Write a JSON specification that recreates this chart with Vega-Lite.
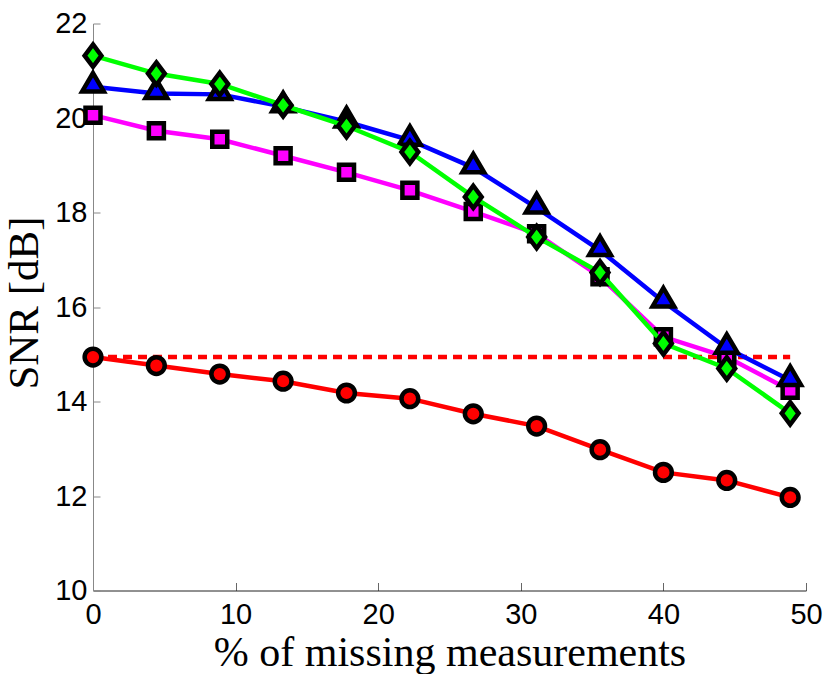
{
  "$schema": "https://vega.github.io/schema/vega-lite/v6.json",
  "width": 713,
  "height": 567,
  "autosize": {"type": "none"},
  "padding": {"left": 93, "top": 23.5, "right": 24, "bottom": 83.5},
  "background": "white",
  "config": {"view": {"stroke": null}},
  "data": {
    "values": [
      {"series": "ref", "x": 0, "y": 14.94},
      {"series": "ref", "x": 48.889, "y": 14.94},
      {"series": "red", "x": 0, "y": 14.94},
      {"series": "red", "x": 4.444, "y": 14.76},
      {"series": "red", "x": 8.889, "y": 14.58},
      {"series": "red", "x": 13.333, "y": 14.43},
      {"series": "red", "x": 17.778, "y": 14.18},
      {"series": "red", "x": 22.222, "y": 14.06},
      {"series": "red", "x": 26.667, "y": 13.74},
      {"series": "red", "x": 31.111, "y": 13.48},
      {"series": "red", "x": 35.556, "y": 12.98},
      {"series": "red", "x": 40, "y": 12.5},
      {"series": "red", "x": 44.444, "y": 12.33},
      {"series": "red", "x": 48.889, "y": 11.97},
      {"series": "magenta", "x": 0, "y": 20.06},
      {"series": "magenta", "x": 4.444, "y": 19.73},
      {"series": "magenta", "x": 8.889, "y": 19.55},
      {"series": "magenta", "x": 13.333, "y": 19.2},
      {"series": "magenta", "x": 17.778, "y": 18.85},
      {"series": "magenta", "x": 22.222, "y": 18.47},
      {"series": "magenta", "x": 26.667, "y": 18.02},
      {"series": "magenta", "x": 31.111, "y": 17.55},
      {"series": "magenta", "x": 35.556, "y": 16.64},
      {"series": "magenta", "x": 40, "y": 15.37},
      {"series": "magenta", "x": 44.444, "y": 14.94},
      {"series": "magenta", "x": 48.889, "y": 14.24},
      {"series": "blue", "x": 0, "y": 20.66},
      {"series": "blue", "x": 4.444, "y": 20.52},
      {"series": "blue", "x": 8.889, "y": 20.5},
      {"series": "blue", "x": 13.333, "y": 20.24},
      {"series": "blue", "x": 17.778, "y": 19.92},
      {"series": "blue", "x": 22.222, "y": 19.53},
      {"series": "blue", "x": 26.667, "y": 18.95},
      {"series": "blue", "x": 31.111, "y": 18.1},
      {"series": "blue", "x": 35.556, "y": 17.2},
      {"series": "blue", "x": 40, "y": 16.11},
      {"series": "blue", "x": 44.444, "y": 15.13},
      {"series": "blue", "x": 48.889, "y": 14.45},
      {"series": "green", "x": 0, "y": 21.32},
      {"series": "green", "x": 4.444, "y": 20.94},
      {"series": "green", "x": 8.889, "y": 20.72},
      {"series": "green", "x": 13.333, "y": 20.27},
      {"series": "green", "x": 17.778, "y": 19.83},
      {"series": "green", "x": 22.222, "y": 19.28},
      {"series": "green", "x": 26.667, "y": 18.33},
      {"series": "green", "x": 31.111, "y": 17.48},
      {"series": "green", "x": 35.556, "y": 16.73},
      {"series": "green", "x": 40, "y": 15.23},
      {"series": "green", "x": 44.444, "y": 14.7},
      {"series": "green", "x": 48.889, "y": 13.75}
    ]
  },
  "encoding": {
    "x": {
      "field": "x", "type": "quantitative",
      "scale": {"domain": [0, 50], "nice": false, "zero": false},
      "axis": {
        "title": "% of missing measurements",
        "values": [0, 10, 20, 30, 40, 50],
        "grid": false,
        "domainColor": "#222222", "domainWidth": 1,
        "tickColor": "#666666", "tickSize": -8, "tickWidth": 1,
        "labelPadding": 18, "labelFlush": false, "labelOverlap": false,
        "labelFont": "Liberation Sans", "labelFontSize": 29, "labelColor": "black",
        "titleFont": "Liberation Serif", "titleFontSize": 42, "titleFontWeight": "normal",
        "titleColor": "black", "titleBaseline": "alphabetic", "titleY": 75
      }
    },
    "y": {
      "field": "y", "type": "quantitative",
      "scale": {"domain": [10, 22], "nice": false, "zero": false},
      "axis": {
        "title": "SNR [dB]",
        "values": [10, 12, 14, 16, 18, 20, 22],
        "grid": false,
        "domainColor": "#888888", "domainWidth": 1,
        "tickColor": "#888888", "tickSize": -7, "tickWidth": 1,
        "labelPadding": 13, "labelFlush": false, "labelOverlap": false,
        "labelFont": "Liberation Sans", "labelFontSize": 29, "labelColor": "black",
        "titleFont": "Liberation Serif", "titleFontSize": 43, "titleFontWeight": "normal",
        "titleColor": "black", "titleBaseline": "alphabetic", "titleX": -56, "titleY": 279,
        "titleAngle": 270
      }
    }
  },
  "layer": [
    {"transform": [{"filter": "datum.series === 'ref'"}],
     "mark": {"type": "line", "color": "#ff0000", "strokeWidth": 4.5, "strokeDash": [9, 6]}},
    {"transform": [{"filter": "datum.series === 'red'"}],
     "mark": {"type": "line", "color": "#ff0000", "strokeWidth": 4.5}},
    {"transform": [{"filter": "datum.series === 'red'"}],
     "mark": {"type": "point", "shape": "circle", "size": 280, "filled": true, "fill": "#ff0000", "stroke": "black", "strokeWidth": 4.5, "opacity": 1}},
    {"transform": [{"filter": "datum.series === 'magenta'"}],
     "mark": {"type": "line", "color": "#ff00ff", "strokeWidth": 4.5}},
    {"transform": [{"filter": "datum.series === 'magenta'"}],
     "mark": {"type": "point", "shape": "square", "size": 225, "filled": true, "fill": "#ff00ff", "stroke": "black", "strokeWidth": 4.5, "opacity": 1}},
    {"transform": [{"filter": "datum.series === 'blue'"}],
     "mark": {"type": "line", "color": "#0000ff", "strokeWidth": 4.5}},
    {"transform": [{"filter": "datum.series === 'blue'"}],
     "mark": {"type": "point", "shape": "M0,-1.27L1,0.43L-1,0.43Z", "size": 470, "filled": true, "fill": "#0000ff", "stroke": "black", "strokeWidth": 4.5, "opacity": 1}},
    {"transform": [{"filter": "datum.series === 'green'"}],
     "mark": {"type": "line", "color": "#00ff00", "strokeWidth": 4.5}},
    {"transform": [{"filter": "datum.series === 'green'"}],
     "mark": {"type": "point", "shape": "M0,-1L0.75,0L0,1L-0.75,0Z", "size": 500, "filled": true, "fill": "#00ff00", "stroke": "black", "strokeWidth": 4.5, "opacity": 1}}
  ]
}
